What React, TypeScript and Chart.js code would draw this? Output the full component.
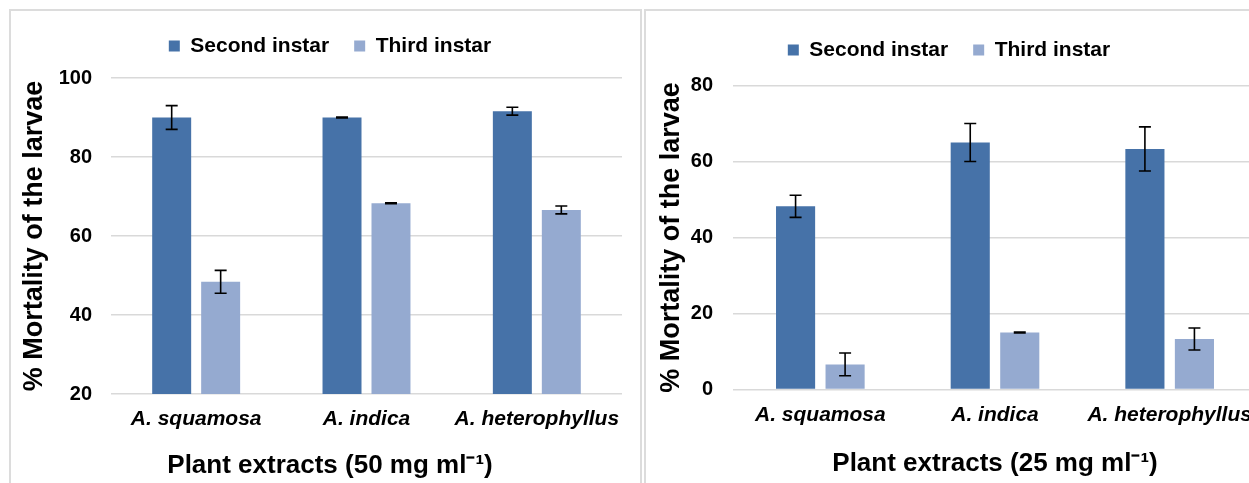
import React, { useEffect, useRef } from "react";
import { Chart, registerables } from "chart.js";

Chart.register(...registerables);

// ---- data ----
const categories = ["A. squamosa", "A. indica", "A. heterophyllus"];
const seriesNames = ["Second instar", "Third instar"];
const second50 = [90.0, 90.0, 91.6];
const second50Err = [3.0, 0.1, 1.0];
const third50 = [48.4, 68.3, 66.6];
const third50Err = [2.9, 0.1, 1.0];
const second25 = [48.2, 65.0, 63.3];
const second25Err = [2.9, 5.0, 5.8];
const third25 = [6.6, 15.0, 13.3];
const third25Err = [3.0, 0.1, 2.9];
const yRange50 = [20, 100];
const yRange25 = [0, 80];
const yStep = 20;
const xTitle50 = "Plant extracts (50 mg ml\u207B\u00B9)";
const xTitle25 = "Plant extracts (25 mg ml\u207B\u00B9)";
const yTitle = "% Mortality of the larvae";
const colors = ["#4672A8", "#95AAD0"];

const FONT = "'Liberation Sans', Arial, Helvetica, sans-serif";

const errorBarPlugin = {
  id: "errorBars",
  afterDatasetsDraw(chart: any, _args: any, opts: any) {
    const { ctx } = chart;
    const y = chart.scales.y;
    ctx.save();
    ctx.strokeStyle = "#000";
    ctx.lineWidth = 1.6;
    chart.data.datasets.forEach((ds: any, i: number) => {
      const meta = chart.getDatasetMeta(i);
      const errs = opts.errors[i];
      meta.data.forEach((bar: any, j: number) => {
        const v = ds.data[j];
        const e = errs[j];
        const x = bar.x;
        const yt = y.getPixelForValue(v + e);
        const yb = y.getPixelForValue(v - e);
        ctx.beginPath();
        ctx.moveTo(x, yt);
        ctx.lineTo(x, yb);
        ctx.moveTo(x - 6, yt);
        ctx.lineTo(x + 6, yt);
        ctx.moveTo(x - 6, yb);
        ctx.lineTo(x + 6, yb);
        ctx.stroke();
      });
    });
    ctx.restore();
  },
};

const legendHeightPlugin = {
  id: "legendHeight",
  beforeLayout(chart: any, _args: any, opts: any) {
    const lg = chart.legend;
    if (lg && !lg.__patched) {
      const orig = lg.fit;
      lg.fit = function () {
        orig.call(this);
        this.height = opts.height;
      };
      lg.__patched = true;
    }
  },
};

function buildConfig(p: any) {
  return {
    type: "bar",
    data: {
      labels: categories,
      datasets: [
        {
          label: seriesNames[0],
          data: p.s1,
          backgroundColor: colors[0],
          borderWidth: 0,
          categoryPercentage: p.catPct,
          barPercentage: p.barPct,
        },
        {
          label: seriesNames[1],
          data: p.s2,
          backgroundColor: colors[1],
          borderWidth: 0,
          categoryPercentage: p.catPct,
          barPercentage: p.barPct,
        },
      ],
    },
    plugins: [errorBarPlugin, legendHeightPlugin],
    options: {
      responsive: false,
      animation: false,
      devicePixelRatio: 1,
      layout: { padding: p.padding },
      plugins: {
        legend: {
          position: "top",
          labels: {
            boxWidth: 11,
            boxHeight: 11,
            padding: 25,
            color: "#000",
            font: { family: FONT, size: 21, weight: "bold" },
          },
        },
        title: p.bottomTitle
          ? {
              display: true,
              position: "bottom",
              text: p.bottomTitle,
              padding: { top: 0, bottom: 1.4 },
              color: "#000",
              font: { family: FONT, size: 26, weight: "bold" },
            }
          : { display: false },
        tooltip: { enabled: false },
        errorBars: { errors: p.errors },
        legendHeight: { height: p.legendHeight },
      },
      scales: {
        x: {
          grid: { display: false, drawTicks: false },
          border: { display: false },
          ticks: {
            padding: p.xTickPad,
            color: "#000",
            maxRotation: 0,
            minRotation: 0,
            autoSkip: false,
            font: { family: FONT, size: 21, weight: "bold", style: "italic" },
          },
          title: p.axisTitle
            ? {
                display: true,
                text: p.axisTitle,
                padding: { top: 0, bottom: 3.4 },
                color: "#000",
                font: { family: FONT, size: 26, weight: "bold" },
              }
            : { display: false },
          afterFit: (s: any) => {
            s.height = p.xHeight;
          },
        },
        y: {
          min: p.yRange[0],
          max: p.yRange[1],
          ticks: {
            stepSize: yStep,
            padding: p.yTickPad,
            color: "#000",
            font: { family: FONT, size: 20, weight: "bold" },
          },
          grid: { color: "#d9d9d9", lineWidth: 1.5, drawTicks: false },
          border: { display: false },
          title: {
            display: true,
            text: yTitle,
            color: "#000",
            padding: { top: p.yTitlePad, bottom: 0 },
            font: { family: FONT, size: 27, weight: "bold" },
          },
          afterFit: (s: any) => {
            s.width = p.yWidth;
          },
        },
      },
    },
  };
}

function BarChart(props: { width: number; height: number; left: number; cfg: any }) {
  const ref = useRef<HTMLCanvasElement | null>(null);
  useEffect(() => {
    if (!ref.current) return;
    const chart = new Chart(ref.current, buildConfig(props.cfg) as any);
    return () => chart.destroy();
  }, []);
  return (
    <canvas
      ref={ref}
      width={props.width}
      height={props.height}
      style={{ position: "absolute", left: props.left, top: 0, width: props.width, height: props.height }}
    />
  );
}

export default function App() {
  const leftCfg = {
    s1: second50,
    s2: third50,
    errors: [second50Err, third50Err],
    yRange: yRange50,
    catPct: 0.575,
    barPct: 0.796,
    padding: { left: 38, right: 12, top: 10.5, bottom: 0 },
    legendHeight: 67.5,
    bottomTitle: xTitle50,
    axisTitle: null,
    xHeight: 56.4,
    xTickPad: 12.4,
    yTickPad: 19,
    yTitlePad: -19.2,
    yWidth: 73,
  };
  const rightCfg = {
    s1: second25,
    s2: third25,
    errors: [second25Err, third25Err],
    yRange: yRange25,
    catPct: 0.567,
    barPct: 0.79,
    padding: { left: 0, right: 12, top: 14.5, bottom: 0 },
    legendHeight: 71,
    bottomTitle: null,
    axisTitle: xTitle25,
    xHeight: 93.5,
    xTickPad: 12.9,
    yTickPad: 20,
    yTitlePad: 14.5,
    yWidth: 92,
  };
  return (
    <div
      style={{
        position: "absolute",
        left: 0,
        top: 0,
        width: 1249,
        height: 483,
        overflow: "hidden",
        background: "#fff",
      }}
    >
      <div
        style={{
          position: "absolute",
          left: 9,
          top: 9,
          width: 633,
          height: 520,
          border: "2px solid #dcdcdc",
          boxSizing: "border-box",
        }}
      />
      <div
        style={{
          position: "absolute",
          left: 644,
          top: 9,
          width: 660,
          height: 520,
          border: "2px solid #dcdcdc",
          boxSizing: "border-box",
        }}
      />
      <BarChart width={634} height={483} left={0} cfg={leftCfg} />
      <BarChart width={628} height={483} left={641} cfg={rightCfg} />
    </div>
  );
}
